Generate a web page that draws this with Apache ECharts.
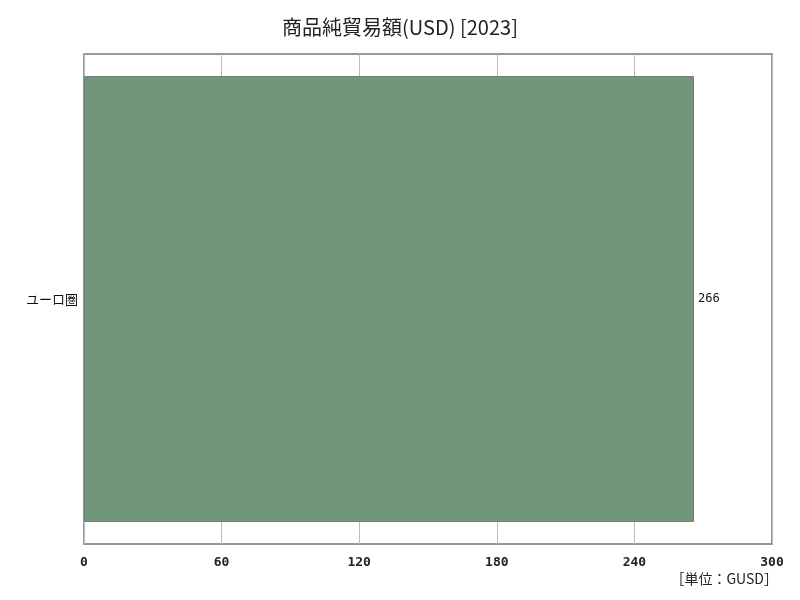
<!DOCTYPE html>
<html>
<head>
<meta charset="utf-8">
<script src="https://cdn.jsdelivr.net/npm/echarts@6/dist/echarts.min.js"></script>
<style>
  html, body { margin: 0; padding: 0; background: #fff; }
  #chart { width: 800px; height: 600px; }
</style>
</head>
<body>
<div id="chart"></div>
<script>
const titleText = "商品純貿易額(USD) [2023]";
const unitText = "［単位：GUSD］";
const categories = ["ユーロ圏"];
const values = [266];
const axisMin = 0;
const axisMax = 300;
const axisStep = 60;

const chart = echarts.init(document.getElementById("chart"));
chart.setOption({
  animation: false,
  title: {
    text: titleText,
    left: "center",
    top: 12,
    textStyle: { fontSize: 20, fontWeight: "normal", color: "#222", fontFamily: "Noto Sans CJK JP" },
  },
  graphic: [{
    type: "text",
    right: 22,
    top: 572,
    style: { text: unitText, fontSize: 14, fill: "#222", fontFamily: "Noto Sans CJK JP" },
  }],
  grid: {
    left: 84, right: 28, top: 54, bottom: 56,
    show: true, borderColor: "#777", borderWidth: 1.5, backgroundColor: "#fff",
  },
  xAxis: {
    type: "value",
    min: axisMin, max: axisMax, interval: axisStep,
    axisLine: { show: false },
    axisTick: { show: false },
    axisLabel: { fontSize: 13, fontWeight: "bold", color: "#222", margin: 12, fontFamily: "DejaVu Sans Mono" },
    splitLine: { show: true, lineStyle: { color: "#bbb", width: 1 } },
  },
  yAxis: {
    type: "category",
    data: categories,
    axisLine: { show: false },
    axisTick: { show: false },
    axisLabel: { fontSize: 13, color: "#111", margin: 6, fontFamily: "Noto Sans CJK JP" },
  },
  series: [{
    type: "bar",
    data: values,
    barCategoryGap: "9%",
    itemStyle: { color: "#71977a", borderColor: "#777", borderWidth: 1 },
    label: { show: true, position: "right", distance: 4, fontSize: 12, color: "#111", fontFamily: "DejaVu Sans Mono" },
  }],
});
</script>
</body>
</html>
